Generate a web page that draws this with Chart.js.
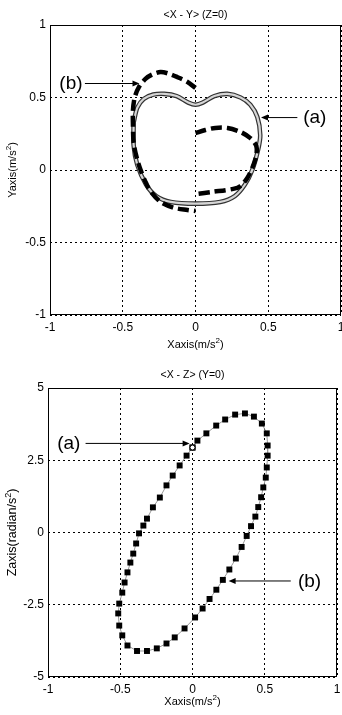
<!DOCTYPE html>
<html>
<head>
<meta charset="utf-8">
<script src="https://cdn.jsdelivr.net/npm/chart.js@4/dist/chart.umd.min.js"></script>
<style>
body{margin:0;background:#fff;width:342px;height:715px;overflow:hidden;position:relative}
canvas{position:absolute;left:0}
#c1{top:0}
#c2{top:350px}
</style>
</head>
<body>
<canvas id="c1" width="342" height="357"></canvas>
<canvas id="c2" width="342" height="365"></canvas>
<script>
// <X - Y> (Z=0) : curve (a) heart, curve (b) dashed
const heartX=[-0.425,-0.40,-0.356,-0.29,-0.215,-0.13,-0.05,0,0.05,0.13,0.22,0.31,0.377,0.425,0.445,0.43,0.39,0.34,0.27,0.17,0,-0.17,-0.27,-0.34,-0.40,-0.425,-0.425];
const heartY=[0.33,0.43,0.49,0.52,0.525,0.51,0.465,0.45,0.465,0.51,0.525,0.50,0.45,0.365,0.24,0.14,0,-0.10,-0.18,-0.22,-0.232,-0.22,-0.18,-0.10,0.035,0.17,0.33];
const bLeftX=[0,-0.06,-0.123,-0.185,-0.24,-0.295,-0.342,-0.39,-0.418,-0.43,-0.43,-0.425,-0.40,-0.37,-0.34,-0.31,-0.24,-0.15,-0.055,0];
const bLeftY=[0.566,0.61,0.64,0.665,0.676,0.66,0.63,0.57,0.50,0.41,0.32,0.186,0.07,-0.02,-0.09,-0.145,-0.22,-0.26,-0.276,-0.283];
const bRightX=[0,0.068,0.137,0.22,0.31,0.377,0.418,0.418,0.39,0.356,0.31,0.26,0.123,0];
const bRightY=[0.255,0.276,0.29,0.29,0.262,0.22,0.166,0.10,0.014,-0.055,-0.11,-0.13,-0.15,-0.166];

// <X - Z> (Y=0) : dotted loop
const loopX=[0,0.034,0.096,0.164,0.226,0.295,0.363,0.425,0.48,0.514,0.52,0.52,0.514,0.507,0.49,0.475,0.455,0.435,0.405,0.375,0.34,0.30,0.255,0.21,0.165,0.118,0.07,0.018,-0.055,-0.123,-0.18,-0.247,-0.315,-0.384,-0.45,-0.486,-0.507,-0.514,-0.507,-0.486,-0.47,-0.45,-0.43,-0.41,-0.39,-0.37,-0.34,-0.315,-0.274,-0.226,-0.18,-0.137,-0.089,-0.041,0];
const loopZ=[2.94,3.18,3.43,3.70,3.91,4.08,4.12,4.01,3.77,3.43,3.01,2.66,2.25,1.90,1.56,1.22,0.88,0.55,0.22,-0.12,-0.50,-0.90,-1.28,-1.64,-1.98,-2.30,-2.63,-2.94,-3.32,-3.63,-3.84,-4.01,-4.10,-4.10,-3.91,-3.56,-3.22,-2.80,-2.46,-2.08,-1.73,-1.38,-1.04,-0.73,-0.38,-0.03,0.24,0.48,0.87,1.21,1.63,1.97,2.32,2.66,2.94];
const markX=[0],markZ=[2.94];

const xTicks=[-1,-0.5,0,0.5,1];
const yTicks1=[-1,-0.5,0,0.5,1];
const yTicks2=[-5,-2.5,0,2.5,5];

const FONT="'Liberation Sans', Arial, sans-serif";
Chart.defaults.font.family=FONT;
Chart.defaults.color='#000';

const pts=(xs,ys)=>xs.map((v,i)=>({x:v,y:ys[i]}));

function supText(ctx,base,sup,tail,x,y,size){
 ctx.font=size+'px '+FONT;
 const w1=ctx.measureText(base).width,w3=ctx.measureText(tail).width;
 ctx.font=Math.round(size*0.7)+'px '+FONT;
 const w2=ctx.measureText(sup).width;
 let sx=x-(w1+w2+w3)/2;
 ctx.textAlign='left';ctx.textBaseline='middle';
 ctx.font=size+'px '+FONT;ctx.fillText(base,sx,y);sx+=w1;
 ctx.font=Math.round(size*0.7)+'px '+FONT;ctx.fillText(sup,sx,y-size*0.38);sx+=w2;
 ctx.font=size+'px '+FONT;ctx.fillText(tail,sx,y);
}

const deco={id:'deco',afterDraw(c,args,o){
 const {ctx,chartArea:a,scales:{x,y}}=c;
 ctx.save();
 ctx.fillStyle='#000';ctx.strokeStyle='#000';ctx.lineWidth=1;
 ctx.strokeRect(a.left+0.5,a.top+0.5,a.right-a.left-1,a.bottom-a.top-1);
 // title
 ctx.font=o.tSize+'px '+FONT;ctx.textAlign='center';ctx.textBaseline='middle';
 ctx.fillText(o.title,(a.left+a.right)/2,a.top-o.tOff);
 // axis titles
 supText(ctx,o.xt[0],o.xt[1],o.xt[2],(a.left+a.right)/2,a.bottom+o.xOff,11);
 ctx.save();
 ctx.translate(13,(a.top+a.bottom)/2);ctx.rotate(-Math.PI/2);
 supText(ctx,o.yt[0],o.yt[1],o.yt[2],0,0,o.ySize);
 ctx.restore();
 // arrows with labels
 o.arrows.forEach(ar=>{
  const py=y.getPixelForValue(ar.y),p0=x.getPixelForValue(ar.x0),p1=x.getPixelForValue(ar.x1);
  const dir=p1>p0?1:-1;
  ctx.beginPath();ctx.moveTo(p0,py+0.5);ctx.lineTo(p1-dir*6,py+0.5);ctx.stroke();
  ctx.beginPath();ctx.moveTo(p1,py+0.5);ctx.lineTo(p1-dir*7,py-2.5);ctx.lineTo(p1-dir*7,py+3.5);ctx.closePath();ctx.fill();
  ctx.font='19px '+FONT;ctx.textAlign='center';ctx.textBaseline='middle';
  ctx.fillText(ar.t,x.getPixelForValue(ar.tx),py+1);
 });
 ctx.restore();
}};

function axes(yt,xh,yw){
 const gridOpt={color:'#000',lineWidth:1,drawTicks:false};
 return {
  x:{type:'linear',min:-1,max:1,afterBuildTicks:s=>{s.ticks=xTicks.map(v=>({value:v}));},
   afterFit:s=>{s.height=xh;s.paddingLeft=0;s.paddingRight=0;},grid:gridOpt,border:{display:false,dash:[2,3]},
   ticks:{padding:5,font:{size:12},callback:v=>String(v),maxRotation:0}},
  y:{type:'linear',min:yt[0],max:yt[yt.length-1],afterBuildTicks:s=>{s.ticks=yt.map(v=>({value:v}));},
   afterFit:s=>{s.width=yw;s.paddingTop=0;s.paddingBottom=0;},grid:gridOpt,border:{display:false,dash:[2,3]},
   ticks:{padding:4,font:{size:12},callback:v=>String(v)}}
 };
}

new Chart(document.getElementById('c1'),{
 type:'scatter',
 data:{datasets:[
  {data:pts(bLeftX,bLeftY),showLine:true,borderColor:'#000',borderWidth:4.5,borderDash:[11,5],pointRadius:0,tension:0.3,order:0},
  {data:pts(bRightX,bRightY),showLine:true,borderColor:'#000',borderWidth:4.5,borderDash:[11,5],pointRadius:0,tension:0.3,order:0},
  {data:pts(heartX,heartY),showLine:true,borderColor:'#d6d6d6',borderWidth:2.2,pointRadius:0,tension:0.3,order:1},
  {data:pts(heartX,heartY),showLine:true,borderColor:'#333',borderWidth:4.6,pointRadius:0,tension:0.3,order:2}
 ]},
 options:{responsive:false,animation:false,events:[],
  layout:{padding:{top:25,right:1,left:0,bottom:0}},
  scales:axes(yTicks1,42,50),
  plugins:{legend:{display:false},tooltip:{enabled:false},
   deco:{title:'<X - Y> (Z=0)',tSize:10.5,tOff:10,xOff:30,ySize:11,
    xt:['Xaxis(m/s','2',')'],yt:['Yaxis(m/s','2',')'],
    arrows:[{t:'(b)',tx:-0.856,y:0.60,x0:-0.76,x1:-0.385},{t:'(a)',tx:0.82,y:0.365,x0:0.70,x1:0.45}]}}
 },
 plugins:[deco]
});

new Chart(document.getElementById('c2'),{
 type:'scatter',
 data:{datasets:[
  {data:pts(markX,markZ),pointStyle:'circle',pointRadius:2.5,pointBackgroundColor:'#fff',pointBorderColor:'#000',pointBorderWidth:1,order:0},
  {data:pts(loopX,loopZ),showLine:true,borderColor:'#999',borderWidth:1,pointStyle:'rect',pointRadius:4.2,pointBackgroundColor:'#000',pointBorderWidth:0,order:1}
 ]},
 options:{responsive:false,animation:false,events:[],
  layout:{padding:{top:38,right:3,left:0,bottom:0}},
  scales:axes(yTicks2,38,48),
  plugins:{legend:{display:false},tooltip:{enabled:false},
   deco:{title:'<X - Z> (Y=0)',tSize:10.5,tOff:13,xOff:25,ySize:12.5,
    xt:['Xaxis(m/s','2',')'],yt:['Zaxis(radian/s','2',')'],
    arrows:[{t:'(a)',tx:-0.856,y:3.1,x0:-0.74,x1:-0.02},{t:'(b)',tx:0.81,y:-1.66,x0:0.68,x1:0.25}]}}
 },
 plugins:[deco]
});
</script>
</body>
</html>
